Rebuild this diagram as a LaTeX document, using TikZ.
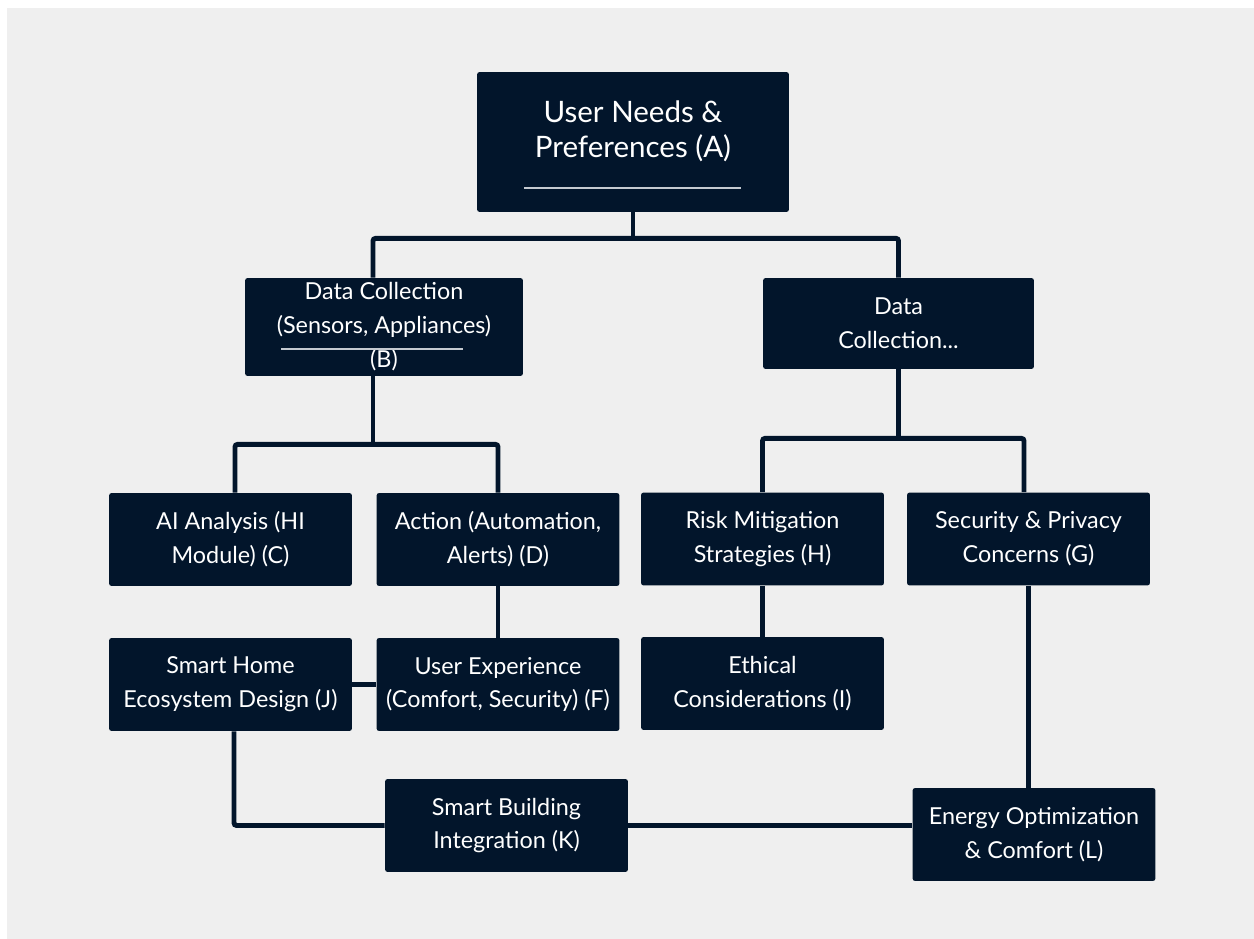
\documentclass[tikz,border=0pt]{standalone}
\usepackage{fontspec}
\setmainfont{Lato}
\usepackage{tikz}
\definecolor{navy}{RGB}{2,21,43}
\definecolor{paper}{RGB}{239,239,239}
\definecolor{rulegray}{RGB}{196,201,208}

\begin{document}
\begin{tikzpicture}[x=0.02cm,y=-0.02cm,
  box/.style={fill=navy,draw=none,rounded corners=1.5pt,text=white,align=center,
    minimum width=4.86cm,minimum height=1.86cm,inner sep=0pt,
    font=\fontsize{13.3}{19.3}\selectfont},
  link/.style={draw=navy,line width=2.8pt,rounded corners=1.5pt},
  thinrule/.style={draw=rulegray,line width=0.8pt}]

\fill[white] (0,0) rectangle (1254,939);
\fill[paper] (7,8) rectangle (1254,939);

\node[box,minimum width=6.24cm,minimum height=2.8cm] (A) at (633,142) {};
\node[text=white,align=center,inner sep=0pt,font=\fontsize{16.8}{20}\selectfont] (Atxt) at (633,131) {User Needs \&\\Preferences (A)};
\node[box,minimum width=5.56cm,minimum height=1.96cm] (B) at (384,327) {Data Collection\\(Sensors, Appliances)\\(B)};
\node[box,minimum width=5.42cm,minimum height=1.82cm] (R) at (898.5,323.5) {Data\\Collection...};

\node[box] (C) at (230.5,539.5) {AI Analysis (HI\\Module) (C)};
\node[box] (D) at (498,539.5) {Action (Automation,\\Alerts) (D)};
\node[box] (H) at (762.5,539) {Risk Mitigation\\Strategies (H)};
\node[box] (G) at (1028.5,539) {Security \& Privacy\\Concerns (G)};

\node[box] (J) at (230.5,684.5) {Smart Home\\Ecosystem Design (J)};
\node[box] (F) at (498,684.5) {User Experience\\(Comfort, Security) (F)};
\node[box] (I) at (762.5,683.5) {Ethical\\Considerations (I)};

\node[box] (K) at (506.5,825.5) {Smart Building\\Integration (K)};
\node[box] (L) at (1034,834.5) {Energy Optimization\\\& Comfort (L)};

% thin lines inside A and B
\draw[thinrule] ([shift={(-109,46)}]A.center) -- ([shift={(108,46)}]A.center);
\draw[thinrule] ([shift={(-103,22)}]B.center) -- ([shift={(79,22)}]B.center);

% tree
\draw[link] (A.south) -- ++(0,26) coordinate (busA);
\draw[link] ([xshift=-0.22cm]B.north) |- (busA) -| (R.north);
\draw[link] ([xshift=-0.22cm]B.south) -- ++(0,68) coordinate (busB);
\draw[link] ([xshift=0.09cm]C.north) |- (busB) -| (D.north);
\draw[link] (R.south) -- ++(0,69) coordinate (busR);
\draw[link] (H.north) |- (busR) -| ([xshift=-0.09cm]G.north);

\draw[link] (D.south) -- (F.north);
\draw[link] (J.east) -- (F.west);
\draw[link] (H.south) -- (I.north);
\draw[link] (G.south) -- (G.south |- L.north);
\draw[link] ([xshift=0.07cm]J.south) |- (K.west);
\draw[link] (K.east) -- (K.east -| L.west);

\end{tikzpicture}
\end{document}
